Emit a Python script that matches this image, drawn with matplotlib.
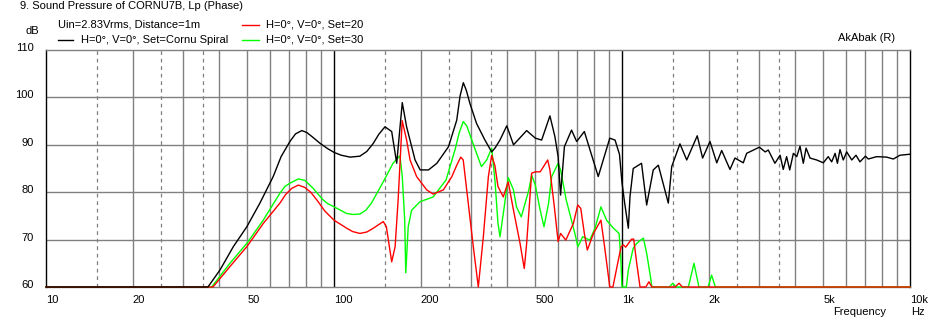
import matplotlib
matplotlib.use("Agg")
import matplotlib.pyplot as plt
from matplotlib.lines import Line2D
from matplotlib.transforms import ScaledTranslation

plt.rcParams['font.family'] = ['Liberation Sans', 'DejaVu Sans']

# ---------------- data ----------------
freq_black = [10, 36.5, 40.2, 44.7, 49.8, 55.3, 61.5, 65.5, 70.3, 73.5, 77.3, 80.4, 84,
              89.5, 95, 100, 106, 113.7, 123, 130, 136.9, 143, 150.3, 158.6, 165.1, 172.6, 178.7,
              191.2, 199.2, 212.9, 227.6, 249.8, 266.8, 274, 281.2, 288, 296.5, 312.6, 334.2,
              352.8, 362.2, 376.9, 398, 420, 466.6, 500, 526, 562, 585,
              600, 612, 631, 668, 696, 740, 827, 907, 946, 980,
              1000, 1020, 1052, 1066, 1094, 1169, 1218, 1284, 1337, 1448,
              1488, 1589, 1678, 1825, 1905, 2021, 2133, 2219, 2371, 2467,
              2637, 2709, 3000, 3141, 3220, 3396, 3539, 3630, 3729, 3823,
              3936, 4044, 4150, 4261, 4357, 4497, 4742, 5000, 5200, 5346,
              5495, 5597, 5714, 5865, 6029, 6277, 6494, 6702, 7000, 7165,
              7656, 8300, 8750, 9230, 9950, 10000]
db_black = [60, 60, 63.6, 68.5, 72.7, 77.7, 83.3, 87.5, 90.7, 92.3, 93.0, 92.6, 91.7,
            90.3, 89.2, 88.4, 87.8, 87.4, 87.6, 88.6, 90.3, 92.2, 93.8, 92.8, 86.1, 98.9, 93.8,
            86.8, 84.7, 84.7, 86.1, 89.6, 95.2, 100.3, 103.1, 101.5, 98.7, 94.5, 91.0,
            88.5, 89.3, 91.0, 94.0, 90.0, 93.0, 91.4, 91.0, 96.1, 91.7,
            87.5, 79.4, 89.6, 93.1, 90.7, 92.8, 83.3, 91.4, 91.0, 88.0,
            82.0, 78.0, 72.4, 79.1, 85.0, 86.1, 77.3, 84.7, 85.7, 77.7,
            85.4, 90.2, 86.8, 91.9, 87.2, 90.7, 86.2, 88.8, 84.8, 87.2,
            86.2, 88.2, 89.5, 88.5, 88.9, 86.1, 87.8, 84.8, 87.5, 84.7,
            88.2, 87.5, 89.7, 86.1, 89.3, 87.2, 86.8, 86.2, 87.5, 86.4,
            88.2, 86.1, 89.0, 86.8, 88.5, 86.8, 87.8, 86.4, 87.6, 87.0,
            87.5, 87.4, 87.0, 87.8, 88.0, 88.0]

freq_red = [10, 38, 43.5, 49.8, 56.8, 64.9, 67.9, 71.3, 75.2, 79.2, 83, 87.1, 93,
            100, 110.7, 116, 123, 130, 136.9, 148.3, 152, 158.6, 163, 167, 172.5,
            178.7, 183.7, 193.6, 209.8, 221, 239.8, 256.6, 266, 275.4, 281, 292.5,
            304.6, 317, 330, 343.6, 352.8, 362, 371, 387, 402.6, 420,
            442.6, 457.8, 466.6, 485.5, 500, 520, 534, 552, 562, 582,
            600, 612, 625, 638, 678, 702, 719, 740, 758, 796,
            845, 870, 907, 930, 966, 993, 1010, 1030, 1080, 1098,
            1125, 1155, 1210, 1240, 1270, 1530, 1577, 1620, 10000]
db_red = [60, 60, 64.3, 68.5, 73.4, 77.7, 79.5, 80.8, 81.5, 81.0, 80.0, 78.4, 76.0,
          74.1, 72.4, 71.7, 71.3, 71.6, 72.4, 73.8, 72.7, 65.3, 68.5, 78.4, 95.1,
          91.0, 86.8, 83.3, 80.5, 79.6, 80.5, 83.3, 85.5, 87.4, 86.8, 77.7,
          68.5, 60, 70.6, 83.3, 87.8, 85.6, 81.2, 79.0, 82.2, 76.2,
          69.2, 63.9, 69.2, 84.0, 84.3, 84.3, 85.4, 86.8, 84.7, 77.0,
          69.6, 71.3, 70.6, 69.9, 73.4, 77.3, 76.6, 71.3, 67.8, 71.3,
          74.1, 68.5, 60, 60, 65.0, 68.5, 68.9, 68.4, 70.1, 70.1,
          65.0, 60, 60, 61.1, 60, 60, 60.8, 60, 60]

freq_green = [10, 37.6, 43.5, 49.8, 56.8, 64.9, 67.5, 70.3, 75.2, 79.2, 84.7, 88,
              91.6, 95, 100.2, 110.7, 117, 123, 129, 134.9, 148.3, 160.3, 169.4, 172.6, 176,
              177.5, 181, 186, 199, 221, 245, 263, 272, 281, 289, 296.5, 312.6,
              325, 339, 352.8, 362, 371, 377, 390, 402.6, 420, 430,
              447, 475, 485.5, 500, 520, 536, 556, 570, 600, 612,
              640, 686, 703, 730, 773, 806, 845, 884, 934, 977,
              990, 1000, 1035, 1052, 1094, 1125, 1155, 1187, 1218, 1250,
              1270, 1460, 1500, 1540, 1700, 1778, 1850, 1990, 2047, 2110, 10000]
db_green = [60, 60, 65.0, 69.2, 74.1, 79.8, 81.2, 81.9, 82.8, 82.5, 80.8, 79.6,
            78.4, 77.6, 76.9, 75.5, 75.3, 75.4, 76.2, 77.7, 82.2, 86.1, 87.7, 83.3, 74.1,
            63.0, 72.7, 76.2, 78.0, 79.0, 82.6, 88.9, 92.5, 94.9, 94.0, 92.1, 88.2,
            85.4, 86.8, 89.3, 82.6, 73.4, 70.6, 76.9, 83.1, 80.5, 76.9,
            74.8, 80.5, 83.6, 81.5, 76.2, 72.7, 77.7, 83.3, 86.1, 84.7,
            78.4, 71.3, 68.5, 70.6, 69.9, 72.4, 76.9, 74.1, 72.4, 71.3,
            66.4, 60, 60, 63.6, 68.2, 69.2, 69.8, 70.3, 67.1, 62.9,
            60, 60, 60.8, 60, 60, 65.0, 60, 60, 62.5, 60, 60]

x_ticks = [10, 20, 50, 100, 200, 500, 1000, 2000, 5000, 10000]
x_tick_labels = ["10", "20", "50", "100", "200", "500", "1k", "2k", "5k", "10k"]
y_ticks = [60, 70, 80, 90, 100, 110]
y_tick_labels = ["60", "70", "80", "90", "100", "110"]

# ---------------- figure ----------------
W, H = 937, 324
fig = plt.figure(figsize=(W / 100, H / 100), dpi=100)
fig.patch.set_facecolor("white")

def fx(px):
    return px / W

def fy(py):
    return 1 - py / H

ax = fig.add_axes([fx(46), fy(287), fx(910) - fx(46), fy(50) - fy(287)])
ax.set_xscale("log")
ax.set_xlim(10, 10000)
ax.set_ylim(60, 110)

GRAY = "#808080"
# grid
for dec in [10, 100, 1000]:
    for m in [2, 3, 4, 5, 6, 7, 8, 9]:
        ax.axvline(dec * m, color=GRAY, lw=1.0, zorder=1)
    for m in [1.5, 2.5, 3.5]:
        ax.axvline(dec * m, color=GRAY, lw=0.9, ls=(0, (3, 3)), zorder=1)
for dec in [100, 1000]:
    ax.axvline(dec, color="black", lw=1.0, zorder=1.5)
for yv in [70, 80, 90, 100]:
    ax.axhline(yv, color=GRAY, lw=1.0, zorder=1)

ax.plot(freq_green, db_green, color="#00ff00", lw=1.0, zorder=3, clip_on=False)
ax.plot(freq_red, db_red, color="#ff0000", lw=1.0, zorder=4, clip_on=False)
ax.plot(freq_black, db_black, color="black", lw=1.0, zorder=5, clip_on=False)

for s in ["top", "bottom"]:
    ax.spines[s].set_color(GRAY)
    ax.spines[s].set_linewidth(1.0)
for s in ["left", "right"]:
    ax.spines[s].set_color("black")
    ax.spines[s].set_linewidth(1.0)

ax.set_xticks(x_ticks)
ax.set_xticklabels(x_tick_labels, ha="left", fontsize=8)
ax.xaxis.set_minor_locator(matplotlib.ticker.NullLocator())
ax.tick_params(axis="x", length=0, pad=6)
ax.set_yticks(y_ticks)
ax.set_yticklabels(y_tick_labels, fontsize=8)
ax.tick_params(axis="y", length=0, pad=9)
for lab in ax.get_yticklabels():
    lab.set_transform(lab.get_transform() + ScaledTranslation(0, 3 / 100, fig.dpi_scale_trans))

# texts
fs = 8
fig.text(fx(20), fy(6), "9. Sound Pressure of CORNU7B, Lp (Phase)", fontsize=fs, va="center", ha="left")
fig.text(fx(58), fy(24.5), "Uin=2.83Vrms, Distance=1m", fontsize=fs, va="center", ha="left")
fig.text(fx(81), fy(40), "H=0°, V=0°, Set=Cornu Spiral", fontsize=fs, va="center", ha="left")
fig.text(fx(266.5), fy(24.5), "H=0°, V=0°, Set=20", fontsize=fs, va="center", ha="left")
fig.text(fx(266.5), fy(40), "H=0°, V=0°, Set=30", fontsize=fs, va="center", ha="left")
fig.text(fx(26), fy(31), "dB", fontsize=fs, va="center", ha="left")
fig.text(fx(838), fy(38), "AkAbak (R)", fontsize=fs, va="center", ha="left")
fig.text(fx(833), fy(312), "Frequency", fontsize=fs, va="center", ha="left")
fig.text(fx(911), fy(312), "Hz", fontsize=fs, va="center", ha="left")

fig.add_artist(Line2D([fx(58), fx(73)], [fy(40), fy(40)], color="black", lw=1.0))
fig.add_artist(Line2D([fx(242), fx(259)], [fy(24.5), fy(24.5)], color="#ff0000", lw=1.0))
fig.add_artist(Line2D([fx(242), fx(259)], [fy(40), fy(40)], color="#00ff00", lw=1.0))

fig.savefig("out.png", dpi=100, facecolor="white")
